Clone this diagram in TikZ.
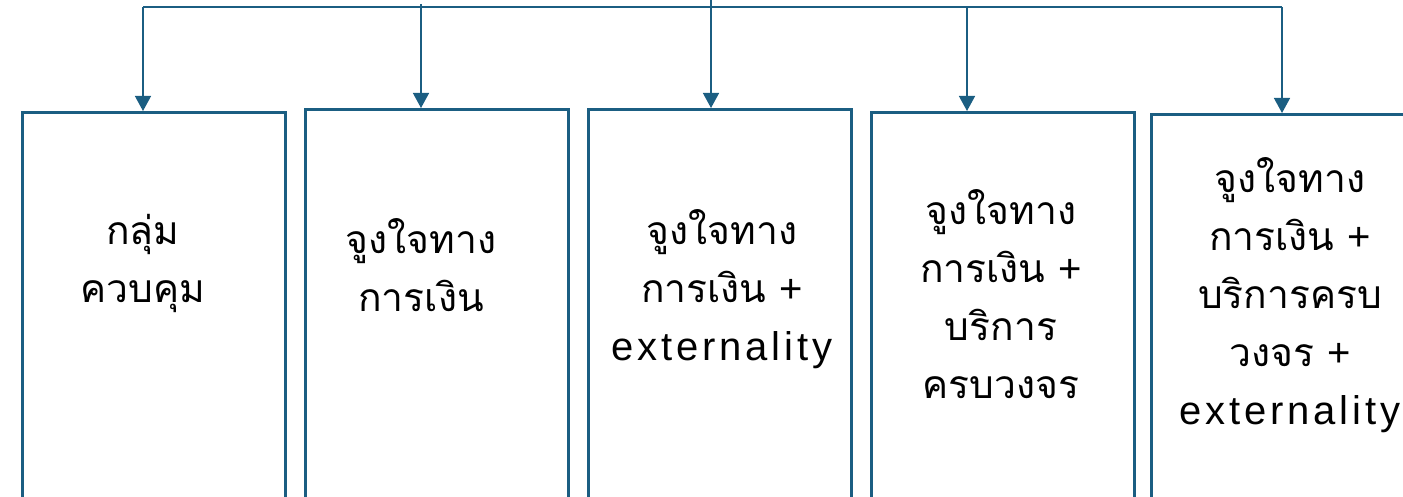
\documentclass[tikz,border=0pt]{standalone}
\usepackage{fontspec}
\newfontfamily\thaifont[Script=Thai]{Loma}
\newfontfamily\latinfont[LetterSpace=9.5]{Liberation Sans}
\newfontfamily\plusfont{Liberation Sans}
\newcommand\lat[1]{{\latinfont\fontsize{40}{58}\selectfont #1}}
\newcommand\pls{{\plusfont\fontsize{40}{58}\selectfont +}}
\usetikzlibrary{arrows.meta}
\definecolor{edgeblue}{HTML}{1B5E82}
\begin{document}
\begin{tikzpicture}[x=1pt,y=-1pt,
  box/.style={draw=edgeblue,line width=2.6pt,anchor=north west,minimum width=263pt,inner sep=0pt},
  label/.style={align=center,font=\thaifont\fontsize{39}{58}\selectfont,inner sep=0pt},
  trunk/.style={draw=edgeblue,line width=1.4pt},
  arr/.style={draw=edgeblue,line width=1.4pt,-{Triangle[width=16pt,length=15pt]}}]
\useasboundingbox (0,0) rectangle (1403,497);
\clip (0,0) rectangle (1403,497);
% boxes
\node[box,minimum height=420pt] (b1) at (21,111) {};
\node[box,minimum height=389pt] (b2) at (304,108) {};
\node[box,minimum height=389pt] (b3) at (587,108) {};
\node[box,minimum height=386pt] (b4) at (870,111) {};
\node[box,minimum height=420pt] (b5) at (1150,113) {};
% labels
\node[label] (t1) at (143,263) {กลุ่ม\\ควบคุม};
\node[label] (t2) at (421,265) {จูงใจทาง\\การเงิน};
\node[label] (t3) at (722,289) {จูงใจทาง\\การเงิน \pls\\\lat{externality}};
\node[label] (t4) at (1001,294) {จูงใจทาง\\การเงิน \pls\\บริการ\\ครบวงจร};
\node[label] (t5) at (1290,295) {จูงใจทาง\\การเงิน \pls\\บริการครบ\\วงจร \pls\\\lat{externality}};
% connectors
\coordinate (top) at (711,0);
\coordinate (j1) at (143,7);
\coordinate (j2) at (421,7);
\coordinate (j4) at (967,7);
\coordinate (j5) at (1282,7);
\draw[trunk] (j1) -- (j5);
\draw[arr] (j1) -- (j1 |- b1.north);
\draw[arr] (421,4) -- (j2 |- b2.north);
\draw[arr] (top) -- (top |- b3.north);
\draw[arr] (j4) -- (j4 |- b4.north);
\draw[arr] (j5) -- (j5 |- b5.north);
\end{tikzpicture}
\end{document}
